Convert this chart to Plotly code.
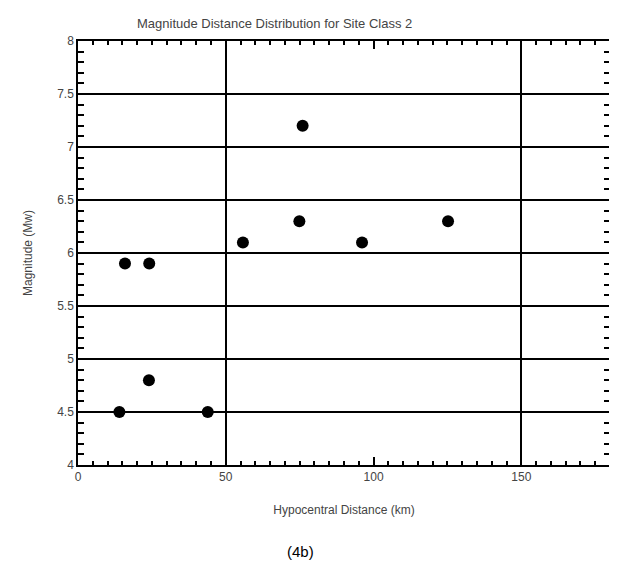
import plotly.graph_objects as go

# Data
distance_km = [15.9, 24.1, 24.0, 14.0, 43.9, 55.8, 76.0, 74.9, 96.1, 125.2]
magnitude = [5.9, 5.9, 4.8, 4.5, 4.5, 6.1, 7.2, 6.3, 6.1, 6.3]

x_tickvals = [0, 50, 100, 150]
x_ticktext = ["0", "50", "100", "150"]
x_grid_vals = [50, 150]
y_tickvals = [4, 4.5, 5, 5.5, 6, 6.5, 7, 7.5, 8]
y_ticktext = ["4", "4.5", "5", "5.5", "6", "6.5", "7", "7.5", "8"]

title_text = "Magnitude Distance Distribution for Site Class 2"
x_title = "Hypocentral Distance (km)"
y_title = "Magnitude (Mw)"
caption = "(4b)"

FONT = "Liberation Sans, Arial, sans-serif"
TXT = "#444444"

fig = go.Figure()
fig.add_trace(go.Scatter(
    x=distance_km, y=magnitude, mode="markers",
    marker=dict(color="black", size=12, line=dict(width=0)),
    showlegend=False, hoverinfo="skip",
))

# page body has an 8px margin, so the figure is sized to fit the window
fig.update_layout(
    width=609, height=557,
    margin=dict(l=70, r=7, t=33, b=100),
    paper_bgcolor="white", plot_bgcolor="white",
    font=dict(family=FONT, size=12, color=TXT),
    xaxis=dict(
        range=[0, 180], tickvals=x_tickvals, ticktext=x_ticktext,
        showgrid=False, zeroline=False, automargin=False,
        showline=True, linecolor="black", linewidth=1.5, mirror="ticks",
        ticks="inside", ticklen=8, tickwidth=1.5, tickcolor="black",
        minor=dict(dtick=5, ticks="inside", ticklen=4, tickwidth=1.5, tickcolor="black"),
        tickfont=dict(size=12, color=TXT, family=FONT),
        title=dict(text=x_title, font=dict(size=12, color=TXT, family=FONT), standoff=22),
    ),
    xaxis2=dict(
        overlaying="x", matches="x", side="bottom", automargin=False,
        tickvals=x_grid_vals, showticklabels=False, ticks="",
        showgrid=True, gridcolor="black", gridwidth=1.8,
        zeroline=False, showline=False,
    ),
    yaxis=dict(
        range=[4, 8], tickvals=y_tickvals, ticktext=y_ticktext,
        showgrid=True, gridcolor="black", gridwidth=1.8, zeroline=False, automargin=False,
        showline=True, linecolor="black", linewidth=1.5, mirror="ticks",
        ticks="inside", ticklen=8, tickwidth=1.5, tickcolor="black",
        minor=dict(dtick=0.1, ticks="inside", ticklen=6, tickwidth=1.5, tickcolor="black"),
        tickfont=dict(size=12, color=TXT, family=FONT),
        title=dict(text=y_title, font=dict(size=12, color=TXT, family=FONT), standoff=22),
    ),
    annotations=[
        dict(text=title_text, xref="paper", yref="paper", x=0.37, y=1.0,
             yshift=18, showarrow=False, xanchor="center", yanchor="middle",
             font=dict(size=13, color=TXT, family=FONT)),
        dict(text=caption, xref="paper", yref="paper", x=0.418, y=0,
             yshift=-86, showarrow=False, xanchor="center", yanchor="middle",
             font=dict(size=15, color="black", family=FONT)),
    ],
)
# empty trace to activate xaxis2 grid
fig.add_trace(go.Scatter(x=[], y=[], xaxis="x2", showlegend=False))

fig.write_html("out.html")
